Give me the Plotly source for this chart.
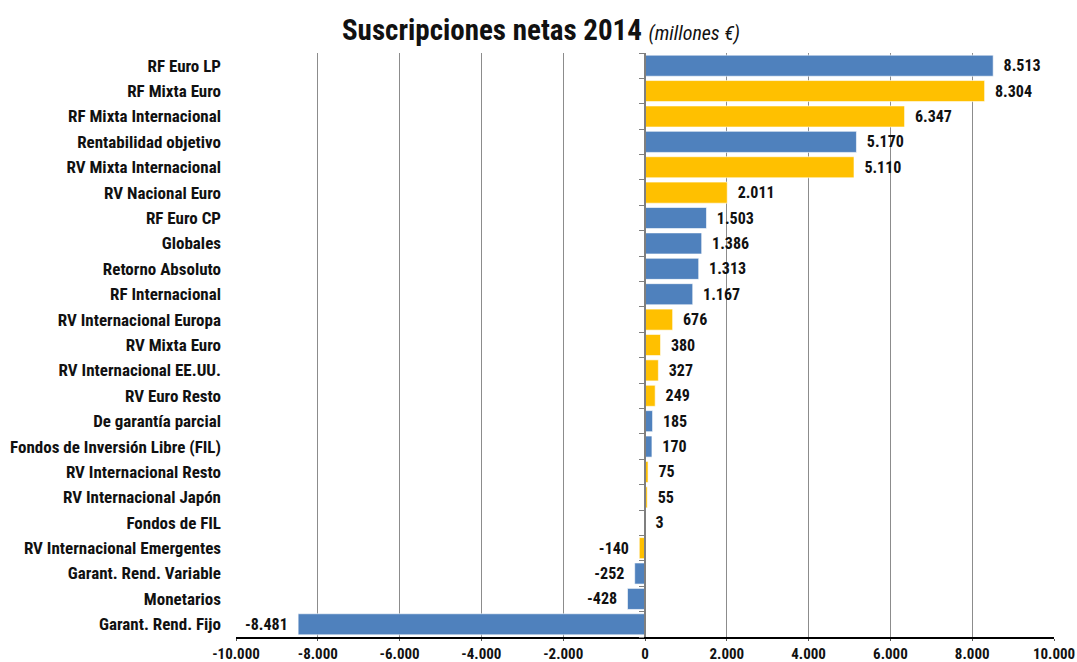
import plotly.graph_objects as go

categories = [
    "RF Euro LP", "RF Mixta Euro", "RF Mixta Internacional", "Rentabilidad objetivo",
    "RV Mixta Internacional", "RV Nacional Euro", "RF Euro CP", "Globales",
    "Retorno Absoluto", "RF Internacional", "RV Internacional Europa", "RV Mixta Euro",
    "RV Internacional EE.UU.", "RV Euro Resto", "De garantía parcial",
    "Fondos de Inversión Libre (FIL)", "RV Internacional Resto", "RV Internacional Japón",
    "Fondos de FIL", "RV Internacional Emergentes", "Garant. Rend. Variable",
    "Monetarios", "Garant. Rend. Fijo",
]
values = [8513, 8304, 6347, 5170, 5110, 2011, 1503, 1386, 1313, 1167, 676, 380,
          327, 249, 185, 170, 75, 55, 3, -140, -252, -428, -8481]
groups = ["b", "y", "y", "b", "y", "y", "b", "b", "b", "b", "y", "y",
          "y", "y", "b", "b", "y", "y", "b", "y", "b", "b", "b"]
tick_vals = [-10000, -8000, -6000, -4000, -2000, 0, 2000, 4000, 6000, 8000, 10000]
tick_labels = ["-10.000", "-8.000", "-6.000", "-4.000", "-2.000", "0",
               "2.000", "4.000", "6.000", "8.000", "10.000"]

color_map = {"b": "#4F81BD", "y": "#FFC000"}
colors = [color_map[g] for g in groups]
pad = "\u00a0\u00a0"
labels = [
    (pad + f"{v:,}".replace(",", ".")) if v >= 0 else (f"{v:,}".replace(",", ".") + pad)
    for v in values
]

FONT = "Liberation Sans Narrow, Arial Narrow, Roboto Condensed, Liberation Sans, Arial, sans-serif"

W, H = 1077, 662

fig = go.Figure()
fig.add_trace(go.Bar(
    x=values, y=categories, orientation="h",
    marker=dict(color=colors, line=dict(width=1, color="rgba(255,255,255,0.6)")),
    text=[f"<b>{t}</b>" for t in labels], textposition="outside", cliponaxis=False,
    textfont=dict(family=FONT, size=16, color="#111111"),
    hoverinfo="x+y",
))
fig.add_trace(go.Scatter(x=[0], y=[0], yaxis="y2", mode="markers",
                         marker=dict(opacity=0), showlegend=False, hoverinfo="skip"))

n = len(categories)
fig.update_layout(
    width=W, height=H,
    margin=dict(l=236, r=23, t=53, b=25, autoexpand=False),
    paper_bgcolor="white", plot_bgcolor="white",
    showlegend=False,
    bargap=0.17,
    font=dict(family=FONT, color="#111111"),
    title=dict(
        text="<b>Suscripciones netas 2014</b> <i><span style='font-size:20px;font-weight:normal'>(millones €)</span></i>",
        x=541 / W, xref="container", xanchor="center", y=1 - 30 / H, yanchor="middle",
        yref="container",
        font=dict(family=FONT, size=29, color="#111111"),
    ),
    xaxis=dict(
        range=[-10000, 10000], tickvals=tick_vals,
        ticktext=[f"<b>{t}</b>" for t in tick_labels],
        showgrid=True, gridcolor="#8c8c8c", gridwidth=1,
        zeroline=False, automargin=False,
        showline=True, linecolor="black", linewidth=1.5,
        ticks="outside", ticklen=2, tickcolor="#555555",
        tickfont=dict(family=FONT, size=15, color="#111111"),
        fixedrange=True,
    ),
    yaxis=dict(
        categoryorder="array", categoryarray=categories,
        range=[n - 0.5, -0.5], automargin=False,
        showgrid=False, zeroline=False, showline=False, ticks="",
        ticklabelstandoff=14,
        tickvals=categories, ticktext=[f"<b>{c}</b>" for c in categories],
        tickfont=dict(family=FONT, size=17, color="#111111"),
    ),
    yaxis2=dict(
        overlaying="y", anchor="free", position=0.5, side="left",
        range=[n - 0.5, -0.5], automargin=False,
        tickvals=[i - 0.5 for i in range(n + 1)],
        showticklabels=False, ticks="outside", ticklen=5, tickcolor="#7f7f7f",
        showline=True, linecolor="#7f7f7f", linewidth=2,
        showgrid=False, zeroline=False,
    ),
)

fig.write_html(
    "out.html",
    config={"displayModeBar": False},
    post_script="document.body.style.margin='0';document.body.style.overflow='hidden';",
)
